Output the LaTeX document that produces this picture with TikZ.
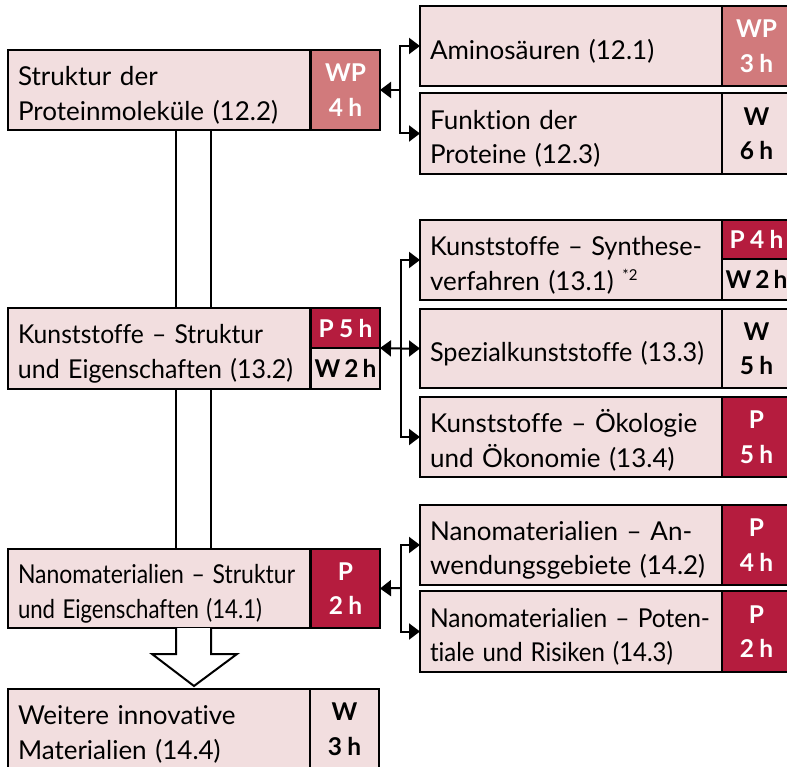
\documentclass[tikz,border=0pt]{standalone}
\usepackage{fontspec}
\usepackage{graphicx}
\setmainfont{Lato}[WordSpace=0.9, Ligatures=NoCommon]
\usetikzlibrary{arrows.meta}

% squeeze a line of text to a given width, keeping its height
\newcommand\squeeze[2]{\resizebox{#1}{\height}{#2}}

\definecolor{pale}{HTML}{F2DEDF}
\definecolor{salmon}{HTML}{D17A7C}
\definecolor{crimson}{HTML}{B51C3E}

\tikzset{
  topic/.style={draw, line width=2pt, fill=pale, rectangle, anchor=north west,
    inner sep=0pt, outer sep=0pt, minimum width=302pt, text width=282pt,
    align=left, font=\fontsize{26}{34.5}\selectfont,
    execute at begin node={\rule{0pt}{30pt}}},
  badge/.style={draw, line width=2pt, rectangle, anchor=north west,
    inner sep=0pt, outer sep=0pt, minimum width=69pt, align=center,
    font=\fontsize{24.5}{34.5}\selectfont\bfseries},
  wp/.style={badge, fill=salmon, text=white},
  pbox/.style={badge, fill=crimson, text=white},
  wbox/.style={badge, fill=pale, text=black},
  link/.style={line width=2pt, -{Triangle[length=11pt,width=16pt]}},
  twoway/.style={line width=2pt, {Triangle[length=11pt,width=16pt]}-{Triangle[length=11pt,width=16pt]}},
  shaft/.style={line width=2pt, line join=miter}
}

\begin{document}
\begin{tikzpicture}[x=1pt,y=-1pt]
\clip (0,0) rectangle (787,767);
\fill[white] (0,0) rectangle (787,767);

% left column: main topics
\node[topic, minimum height=80pt] (k1) at (8,50) {\mbox{Struktur der}\\\mbox{Proteinmoleküle (12.2)}};
\node[wp, minimum height=80pt] (b1) at (311,50) {WP\\4 h};

\node[topic, minimum height=81pt] (k2) at (8,308) {\squeeze{245pt}{Kunststoffe – Struktur}\\\squeeze{275pt}{und Eigenschaften (13.2)}};
\node[pbox, minimum height=40pt] (b2a) at (311,308) {P 5 h};
\node[wbox, minimum height=41pt] (b2b) at (311,348) {W\,2\,h};

\node[topic, minimum height=79pt] (k3) at (8,549) {\squeeze{277pt}{Nanomaterialien – Struktur}\\\squeeze{244pt}{und Eigenschaften (14.1)}};
\node[pbox, minimum height=79pt] (b3) at (311,549) {P\\2 h};

\node[topic, minimum height=80pt] (k4) at (8,689) {\mbox{Weitere innovative}\\\mbox{Materialien (14.4)}};
\node[wbox, minimum height=80pt] (b4) at (310,689) {W\\3 h};

% right column: sub topics
\node[topic, minimum height=80pt] (r1) at (420,6) {\mbox{Aminosäuren (12.1)}};
\node[wp, minimum height=80pt] (rb1) at (722,6) {WP\\3 h};
\node[topic, minimum height=81pt] (r2) at (420,93) {\mbox{Funktion der}\\\mbox{Proteine (12.3)}};
\node[wbox, minimum height=81pt] (rb2) at (722,93) {W\\6 h};

\node[topic, minimum height=80pt] (r3) at (420,220) {\squeeze{272pt}{Kunststoffe – Synthese-}\\\mbox{verfahren (13.1) {\fontsize{15}{15}\selectfont\raisebox{10pt}{*2}}}};
\node[pbox, minimum height=39pt] (rb3a) at (722,220) {P 4 h};
\node[wbox, minimum height=41pt] (rb3b) at (722,259) {W\,2\,h};
\node[topic, minimum height=79pt] (r4) at (420,309) {\squeeze{274pt}{Spezialkunststoffe (13.3)}};
\node[wbox, minimum height=79pt] (rb4) at (722,309) {W\\5 h};
\node[topic, minimum height=80pt] (r5) at (420,397) {\mbox{Kunststoffe – Ökologie}\\\mbox{und Ökonomie (13.4)}};
\node[pbox, minimum height=80pt] (rb5) at (722,397) {P\\5 h};

\node[topic, minimum height=80pt] (r6) at (420,505) {\mbox{Nanomaterialien – An-}\\\mbox{wendungsgebiete (14.2)}};
\node[pbox, minimum height=80pt] (rb6) at (722,505) {P\\4 h};
\node[topic, minimum height=81pt] (r7) at (420,591) {\squeeze{280pt}{Nanomaterialien – Poten-}\\\squeeze{243pt}{tiale und Risiken (14.3)}};
\node[pbox, minimum height=81pt] (rb7) at (722,591) {P\\2 h};

% branching connectors
\coordinate (j1) at (400,90);
\draw[link] (j1) -- (b1.east);
\draw[link] (j1) |- (r1.west);
\draw[link] (j1) |- (r2.west);

\coordinate (j2) at (401,348);
\draw[twoway] (b2a.south east) -- (j2 |- r4.west) -- (r4.west);
\draw[link] (j2) |- (r3.west);
\draw[link] (j2) |- (r5.west);

\coordinate (j3) at (401,588);
\draw[link] (j3) -- (b3.east);
\draw[link] (j3) |- (r6.west);
\draw[link] (j3) |- (r7.west);

% hollow block arrow down the left column
\coordinate (sl) at (176,0);
\coordinate (sr) at (211,0);
\draw[shaft] (sl |- k1.south) -- (sl |- k2.north);
\draw[shaft] (sr |- k1.south) -- (sr |- k2.north);
\draw[shaft] (sl |- k2.south) -- (sl |- k3.north);
\draw[shaft] (sr |- k2.south) -- (sr |- k3.north);
\draw[shaft, fill=white] (sl |- k3.south) -- (176,654) -- (152,654) -- (194,686)
  -- (237,654) -- (211,654) -- (sr |- k3.south);
\end{tikzpicture}
\end{document}
